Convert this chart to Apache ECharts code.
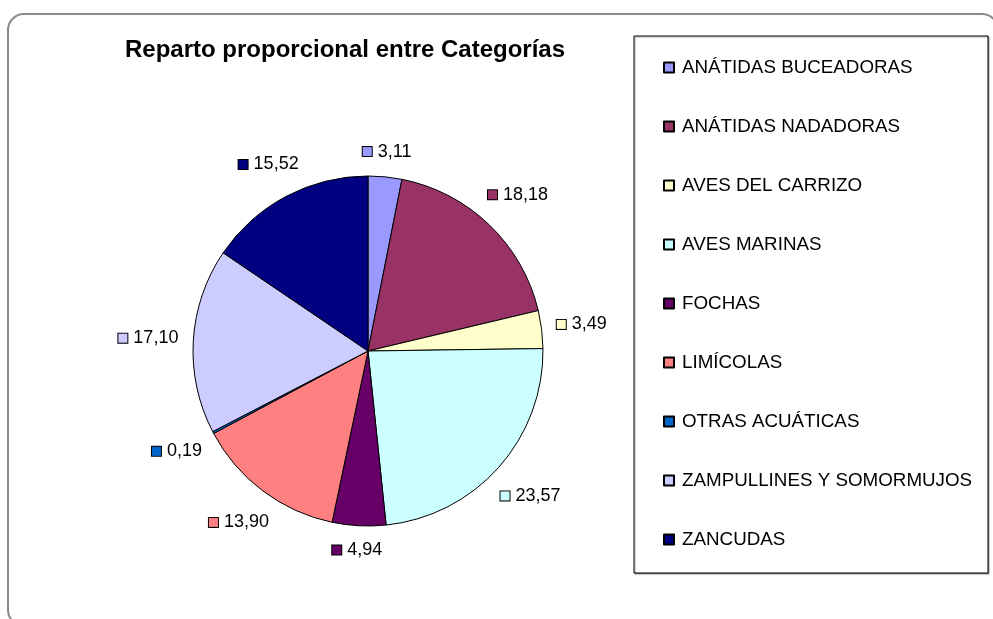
<!DOCTYPE html>
<html lang="es">
<head>
  <meta charset="utf-8">
  <title>Reparto proporcional entre Categorías</title>
  <script src="https://cdn.jsdelivr.net/npm/echarts@6/dist/echarts.min.js"></script>
  <style>
    html, body { margin: 0; padding: 0; background: #fff; }
    #main { width: 993px; height: 619px; }
  </style>
</head>
<body>
  <div id="main"></div>
  <script>
    // categorías y porcentajes
    var categorias = ['ANÁTIDAS BUCEADORAS', 'ANÁTIDAS NADADORAS', 'AVES DEL CARRIZO', 'AVES MARINAS',
      'FOCHAS', 'LIMÍCOLAS', 'OTRAS ACUÁTICAS', 'ZAMPULLINES Y SOMORMUJOS', 'ZANCUDAS'];
    var valores = [3.11, 18.18, 3.49, 23.57, 4.94, 13.90, 0.19, 17.10, 15.52];
    var colores = ['#9999FF', '#993366', '#FFFFCC', '#CCFFFF', '#660066', '#FF8080', '#0066CC', '#CCCCFF', '#000080'];

    var fuente = '"Liberation Sans", Arial, sans-serif';
    var centro = [368, 351];
    var separacion = 189; // distancia del centro al borde de la etiqueta

    var datos = categorias.map(function (c, i) {
      return { name: c, value: valores[i], itemStyle: { color: colores[i] } };
    });

    // un cuadrito de color por etiqueta
    var rich = { v: { fontSize: 18, color: '#000', fontFamily: fuente, padding: [0, 0, 0, 6] } };
    colores.forEach(function (c, i) {
      rich['s' + i] = { width: 9, height: 9, backgroundColor: c, borderColor: '#000', borderWidth: 1 };
    });

    var myChart = echarts.init(document.getElementById('main'));

    var option = {
      animation: false,
      title: {
        text: 'Reparto proporcional entre Categorías',
        left: 340,
        top: 33,
        textAlign: 'center',
        textStyle: { fontSize: 24, fontWeight: 'bold', color: '#000', fontFamily: fuente }
      },
      graphic: [
        {
          type: 'rect',
          shape: { x: 8, y: 14, width: 990, height: 612, r: 16 },
          style: { fill: 'none', stroke: '#8a8a8a', lineWidth: 2 },
          silent: true
        },
        {
          type: 'rect',
          shape: { x: 634, y: 36, width: 354, height: 537 },
          style: { fill: '#fff', stroke: '#000', lineWidth: 1, shadowColor: 'rgba(0,0,0,0.35)', shadowOffsetX: 1, shadowOffsetY: 1, shadowBlur: 1 },
          silent: true,
          z: -1
        }
      ],
      legend: {
        orient: 'vertical',
        left: 658,
        top: 53,
        itemWidth: 10,
        itemHeight: 10,
        itemGap: 40,
        icon: 'rect',
        data: categorias,
        textStyle: { fontSize: 18.8, lineHeight: 19, color: '#000', fontFamily: fuente, padding: [0, 0, 0, 3] }
      },
      series: [
        {
          name: 'Reparto',
          type: 'pie',
          center: centro,
          radius: 175,
          startAngle: 90,
          clockwise: true,
          silent: true,
          itemStyle: { borderColor: '#000', borderWidth: 1 },
          label: { show: false },
          labelLine: { show: false },
          data: datos
        },
        {
          // anillo invisible que solo lleva las etiquetas
          name: 'Etiquetas',
          type: 'pie',
          center: centro,
          radius: [176, 246],
          startAngle: 90,
          clockwise: true,
          silent: true,
          itemStyle: { color: 'rgba(0,0,0,0)', borderWidth: 0 },
          label: {
            show: true,
            position: 'inside',
            formatter: function (p) {
              return '{s' + p.dataIndex + '|}{v|' + p.value.toFixed(2).replace('.', ',') + '}';
            },
            rich: rich
          },
          // acercar cada etiqueta hasta que su caja quede a la misma distancia del pastel
          labelLayout: function (p) {
            var r = p.labelRect;
            var cx = r.x + r.width / 2, cy = r.y + r.height / 2;
            var dx = cx - centro[0], dy = cy - centro[1];
            var d = Math.sqrt(dx * dx + dy * dy);
            var ux = dx / d, uy = dy / d;
            var dist = separacion + Math.abs(ux) * r.width / 2 + Math.abs(uy) * r.height / 2;
            return {
              x: centro[0] + ux * dist,
              y: centro[1] + uy * dist,
              align: 'center',
              verticalAlign: 'middle'
            };
          },
          labelLine: { show: false },
          data: categorias.map(function (c, i) { return { name: c, value: valores[i] }; })
        }
      ]
    };

    myChart.setOption(option);
  </script>
</body>
</html>
